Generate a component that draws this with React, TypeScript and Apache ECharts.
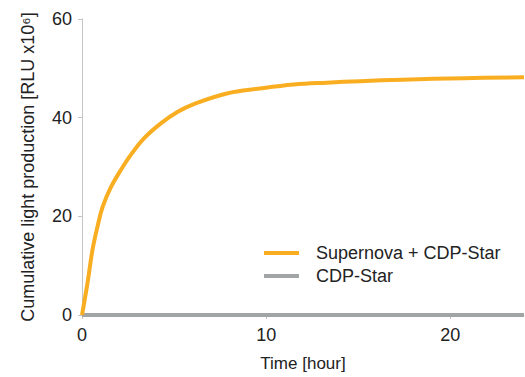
import React, { useEffect, useRef } from "react";
import * as echarts from "echarts";

const timeHours = [0, 0.3, 0.57, 0.84, 1.12, 1.57, 2.11, 2.66, 3.39, 4.3, 5.2, 6.04, 7.86, 9.67, 11.5, 13.3, 15.1, 17.4, 20.75, 24];
const supernovaValues = [0, 6.5, 13.2, 17.9, 21.9, 25.9, 29.4, 32.5, 35.9, 38.9, 41.2, 42.7, 44.9, 45.9, 46.7, 47.1, 47.4, 47.7, 48.0, 48.2];
const cdpTimes = [0, 6, 12, 18, 24];
const cdpValues = [0, 0, 0, 0, 0];
const seriesNames = ["Supernova + CDP-Star", "CDP-Star"];

const FONT = "'Liberation Sans', Arial, Helvetica, sans-serif";

export default function App() {
  const ref = useRef<HTMLDivElement>(null);
  useEffect(() => {
    const chart = echarts.init(ref.current!, undefined, { renderer: "svg" });
    chart.setOption({
      animation: false,
      textStyle: { fontFamily: FONT },
      grid: { left: 82, right: 1, top: 19, bottom: 57 },
      legend: {
        orient: "vertical",
        left: 259,
        top: 239,
        itemWidth: 35,
        itemHeight: 4,
        itemGap: 5,
        icon: "rect",
        textStyle: { fontSize: 18, lineHeight: 18, color: "#222", fontFamily: FONT, padding: [0, 0, 0, 12] },
        data: seriesNames,
      },
      xAxis: {
        type: "value",
        min: 0,
        max: 24,
        interval: 10,
        name: "Time [hour]",
        nameLocation: "middle",
        nameGap: 40,
        nameTextStyle: { fontSize: 17, color: "#222", fontFamily: FONT },
        axisLine: { show: true, lineStyle: { color: "#c4c4c4", width: 1 } },
        axisTick: { show: true, length: 4, lineStyle: { color: "#c4c4c4" } },
        axisLabel: { fontSize: 18, color: "#222", margin: 11, fontFamily: FONT, showMaxLabel: false },
        splitLine: { show: false },
      },
      yAxis: {
        type: "value",
        min: 0,
        max: 60,
        interval: 20,
        name: "Cumulative light production [RLU x10⁶]",
        nameLocation: "middle",
        nameGap: 45,
        nameTextStyle: { fontSize: 18, color: "#222", fontFamily: FONT },
        axisLine: { show: true, lineStyle: { color: "#c4c4c4", width: 1 } },
        axisTick: { show: true, length: 4, lineStyle: { color: "#c4c4c4" } },
        axisLabel: { fontSize: 18, color: "#222", margin: 10, fontFamily: FONT },
        splitLine: { show: false },
      },
      series: [
        {
          name: seriesNames[1],
          type: "line",
          data: cdpTimes.map((t, i) => [t, cdpValues[i]]),
          showSymbol: false,
          lineStyle: { color: "#a2a5a5", width: 4 },
          itemStyle: { color: "#a2a5a5" },
          z: 2,
        },
        {
          name: seriesNames[0],
          type: "line",
          data: timeHours.map((t, i) => [t, supernovaValues[i]]),
          smooth: 0.4,
          showSymbol: false,
          lineStyle: { color: "#f9ae22", width: 4 },
          itemStyle: { color: "#f9ae22" },
          z: 3,
        },
      ],
    });
    return () => chart.dispose();
  }, []);
  return <div ref={ref} style={{ width: 525, height: 377, position: "absolute", left: 0, top: 0 }} />;
}
